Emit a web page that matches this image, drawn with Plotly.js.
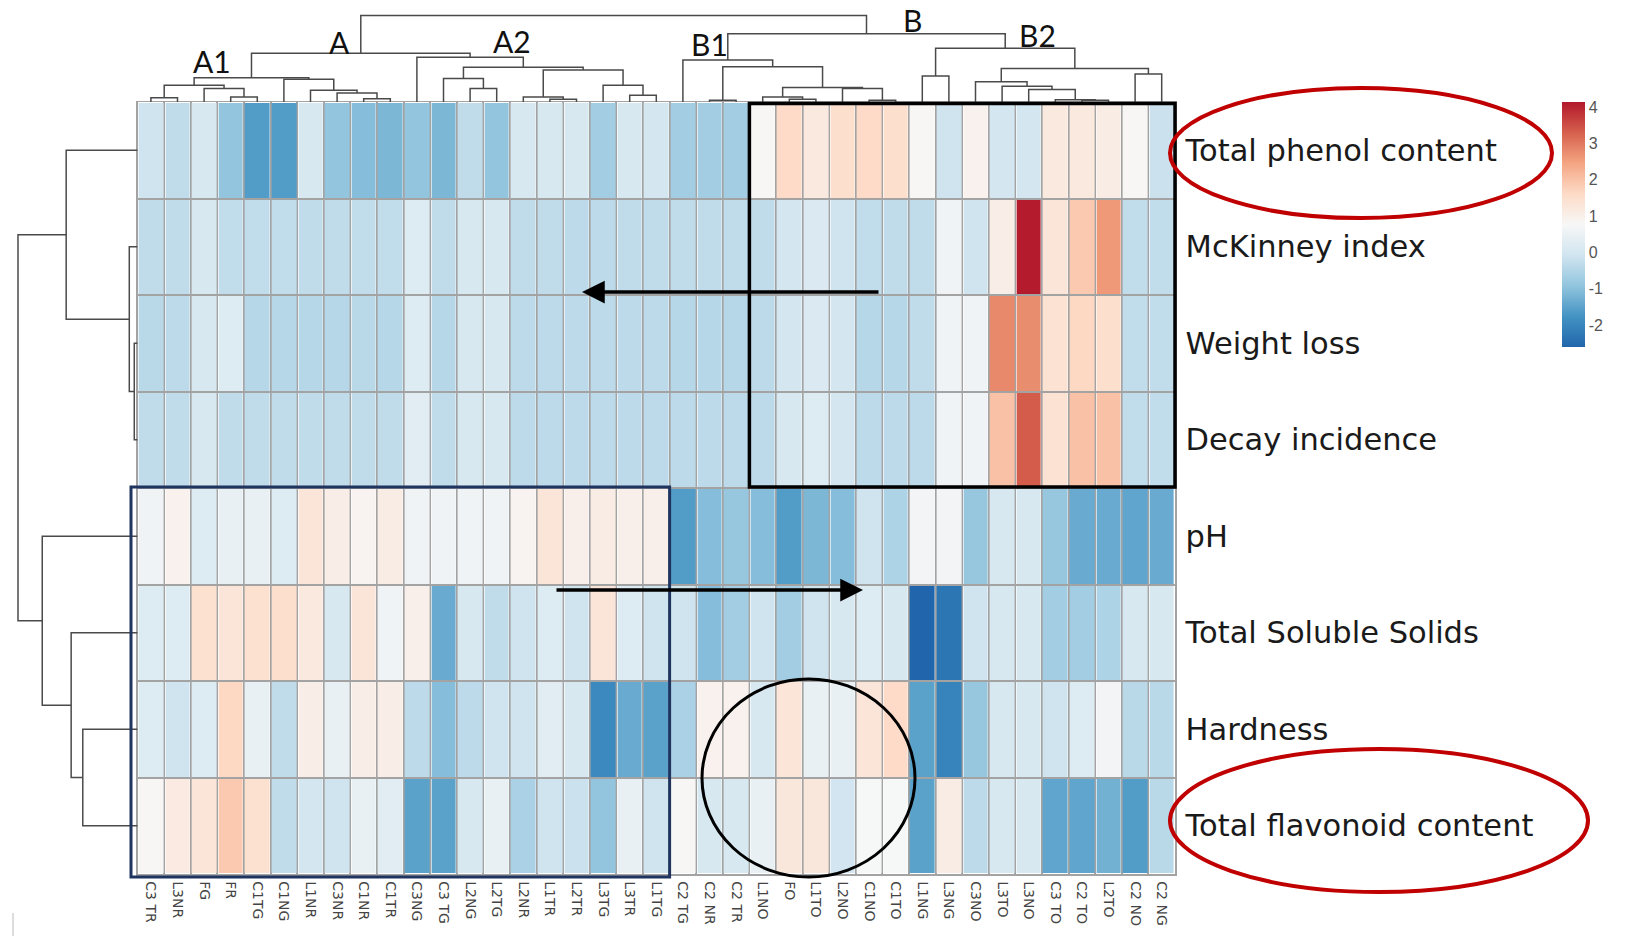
<!DOCTYPE html>
<html>
<head>
<meta charset="utf-8">
<script src="https://cdn.plot.ly/plotly-3.0.1.min.js"></script>
<style>html,body{margin:0;padding:0;background:#fff}#chart{width:1631px;height:939px}</style>
</head>
<body>
<div id="chart"></div>
<script>
// ---------- DATA ----------
const columns = ["C3 TR","L3NR","FG","FR","C1TG","C1NG","L1NR","C3NR","C1NR","C1TR","C3NG","C3 TG","L2NG","L2TG","L2NR","L1TR","L2TR","L3TG","L3TR","L1TG","C2 TG","C2 NR","C2 TR","L1NO","FO","L1TO","L2NO","C1NO","C1TO","L1NG","L3NG","C3NO","L3TO","L3NO","C3 TO","C2 TO","L2TO","C2 NO","C2 NG"];
const rowsLabels = ["Total phenol content","McKinney index","Weight loss","Decay incidence","pH","Total Soluble Solids","Hardness","Total flavonoid content"];

const totalPhenol = [-0.1,-0.3,0.05,-0.9,-1.6,-1.6,0.05,-0.9,-1.05,-1.15,-0.9,-1.15,-0.3,-0.9,0.05,0.05,0.05,-0.7,0.05,0.0,-0.7,-0.7,-0.7,0.8,1.6,1.2,1.5,1.6,1.5,0.8,-0.1,0.95,0.0,0.0,1.2,1.2,1.1,0.8,-0.15];
const mckinney = [-0.3,-0.3,0.05,-0.28,-0.28,-0.28,-0.3,-0.3,-0.28,-0.28,0.2,-0.3,0.05,0.05,-0.3,-0.3,-0.35,-0.35,-0.3,-0.3,-0.3,-0.3,-0.3,-0.3,0.0,0.15,-0.1,-0.28,-0.3,-0.3,0.6,-0.1,1.05,4.1,1.3,1.9,2.6,-0.28,-0.28];
const weightLoss = [-0.4,-0.35,0.05,0.2,-0.45,-0.45,-0.45,-0.45,-0.4,-0.45,0.2,-0.45,0.05,0.05,-0.35,-0.35,-0.35,-0.35,-0.35,-0.35,-0.45,-0.45,-0.45,-0.35,0.0,0.15,0.0,-0.45,-0.45,-0.3,0.6,0.6,2.8,2.75,1.4,1.65,1.5,-0.28,-0.28];
const decay = [-0.3,-0.3,0.05,-0.3,-0.3,-0.3,-0.3,-0.3,-0.3,-0.3,0.3,-0.3,0.05,0.05,-0.35,-0.35,-0.35,-0.35,-0.35,-0.35,-0.35,-0.35,-0.35,-0.35,0.05,0.2,0.0,-0.35,-0.35,-0.35,0.6,0.6,2.0,3.35,1.4,2.0,2.0,-0.28,-0.28];
const pH = [0.6,0.95,0.2,0.45,0.45,0.2,1.3,1.05,0.9,1.1,0.6,0.6,0.6,0.6,0.9,1.3,1.0,1.1,1.0,1.0,-1.6,-1.05,-0.85,-1.05,-1.6,-1.15,-1.05,-0.1,-0.55,0.65,0.65,-0.85,0.05,0.05,-0.85,-1.35,-1.35,-1.45,-1.35];
const tss = [0.2,0.2,1.45,1.3,1.45,1.5,1.2,0.05,1.3,0.6,1.0,-1.35,0.05,-0.3,-0.1,0.2,-0.1,1.3,0.2,-0.1,-0.1,-1.05,-0.7,-0.1,-0.7,-0.1,0.05,0.2,0.05,-2.6,-2.3,-0.1,0.05,0.05,-0.7,-0.7,-0.55,0.05,0.05];
const hardness = [0.2,-0.1,0.2,1.65,0.45,-0.3,1.05,0.45,1.05,1.05,-0.35,-1.05,-0.35,-0.1,-0.1,0.3,0.05,-1.95,-1.35,-1.5,-0.6,0.95,0.95,0.05,1.3,0.45,0.45,1.3,1.6,-1.5,-2.05,-0.85,0.05,0.05,-0.1,0.2,0.65,-0.4,-0.4];
const flavonoid = [0.8,1.15,1.3,1.9,1.45,-0.3,0.0,-0.1,0.45,0.3,-1.5,-1.5,0.05,0.45,-0.6,-0.1,-0.15,-0.9,0.45,-0.1,0.8,0.05,0.05,0.45,1.25,1.25,-0.05,0.75,0.75,-1.5,1.1,-0.35,0.05,0.05,-1.45,-1.45,-1.25,-1.6,-0.4];

// column dendrogram merges: [left, right, height]  (leaves 0..38, clusters 39+k)
const colMerges = [
  [0,1,13],[3,4,15],[2,40,40],[39,41,50],[8,9,10],[7,43,27],[6,44,35],[5,45,68],[42,46,72],
  [12,13,40],[11,48,70],[15,16,8],[14,50,15],[18,19,20],[17,52,50],[51,53,95],[49,54,103],[10,55,133],
  [47,56,145],
  [21,22,5],[24,25,8],[23,59,15],[27,28,5],[26,61,40],[60,62,43],[58,63,105],[20,64,125],
  [29,30,77],[35,36,5],[34,67,7],[33,68,37],[32,69,47],[31,70,60],[37,38,83],[71,72,100],[66,73,160],
  [65,74,203],[57,75,257]
];
// row dendrogram merges (leaves 0..7, clusters 8+k)
const rowMerges = [[2,3,10],[1,8,25],[0,9,215],[6,7,165],[5,11,200],[4,12,287],[10,13,360]];

const colorbarTicks = [-2,-1,0,1,2,3,4];
const clusterLabels = ["A1","A","A2","B1","B","B2"];

// ---------- BUILD ----------
const zData = [totalPhenol, mckinney, weightLoss, decay, pH, tss, hardness, flavonoid];

function dendro(merges, n){
  const pos=[], hgt=[], p=[], h=[];
  for(let i=0;i<n;i++){pos[i]=i;hgt[i]=0;}
  merges.forEach((m,k)=>{
    const [l,r,ht]=m;
    p.push(pos[l],pos[l],pos[r],pos[r],null);
    h.push(hgt[l],ht,ht,hgt[r],null);
    pos[n+k]=(pos[l]+pos[r])/2; hgt[n+k]=ht;
  });
  return {p,h};
}
const colD = dendro(colMerges, columns.length);
const rowD = dendro(rowMerges, rowsLabels.length);

const W=1631, H=939;
const px = v => v/W, py = v => 1 - v/H;
const hmL=137.6, hmR=1175, hmT=102, hmB=874;
const xdom=[px(hmL), px(hmR)];
const ydom=[py(hmB), py(hmT)];

const colorscale=[[0,'#2166ac'],[0.125,'#4393c3'],[0.25,'#92c5de'],[0.375,'#d1e5f0'],[0.5,'#f7f7f7'],[0.625,'#fddbc7'],[0.75,'#f4a582'],[0.875,'#d6604d'],[1,'#b2182b']];

const idxC = columns.map((_,i)=>i);
const idxR = rowsLabels.map((_,i)=>i);

const traces = [
  {type:'heatmap', z:zData, x:idxC, y:idxR, xaxis:'x', yaxis:'y',
   colorscale, zmin:-2.6, zmax:4.14, xgap:2, ygap:2, hoverinfo:'skip',
   colorbar:{x:px(1562), xanchor:'left', y:py(224.5), yanchor:'middle', len:245, lenmode:'pixels',
     thickness:23, thicknessmode:'pixels', outlinewidth:0, xpad:0, ypad:0,
     tickvals:colorbarTicks, ticktext:colorbarTicks.map(String), ticks:'',
     tickfont:{family:'Liberation Sans, Arial', size:16, color:'#555'}}},
  {type:'scatter', mode:'lines', x:colD.p, y:colD.h, xaxis:'x3', yaxis:'y2',
   line:{color:'#4a4a4a', width:1.5}, hoverinfo:'skip'},
  {type:'scatter', mode:'lines', x:rowD.h, y:rowD.p, xaxis:'x2', yaxis:'y3',
   line:{color:'#4a4a4a', width:1.5}, hoverinfo:'skip'}
];

// dendrogram scales
const topScale = (hmT-15.6)/257;   // px per unit
const leftScale = (hmL-18)/360;

const labelPos = [[212,61],[339,42],[512,41],[709,44],[912,20],[1037,35]];

const annotations = clusterLabels.map((t,i)=>({
  text:t, xref:'paper', yref:'paper', x:px(labelPos[i][0]), y:py(labelPos[i][1]),
  xanchor:'center', yanchor:'middle', showarrow:false,
  font:{family:'Lato, Liberation Sans', size:30, color:'#111'}
}));
annotations.push(
  {text:'', xref:'paper', yref:'paper', x:px(582), y:py(292), ax:298, ay:0, axref:'pixel', ayref:'pixel',
   showarrow:true, arrowhead:2, arrowsize:1.3, arrowwidth:3.5, arrowcolor:'#000', standoff:0},
  {text:'', xref:'paper', yref:'paper', x:px(863), y:py(590), ax:-308, ay:0, axref:'pixel', ayref:'pixel',
   showarrow:true, arrowhead:2, arrowsize:1.3, arrowwidth:3.5, arrowcolor:'#000', standoff:0}
);

const shapes = [
  {type:'rect', xref:'paper', yref:'paper', x0:px(749.4), x1:px(1175), y0:py(487), y1:py(103.5),
   line:{color:'#000', width:3.5}},
  {type:'rect', xref:'paper', yref:'paper', x0:px(131), x1:px(669.6), y0:py(877), y1:py(487),
   line:{color:'#1f3560', width:3}},
  {type:'circle', xref:'paper', yref:'paper', x0:px(702), x1:px(915), y0:py(877), y1:py(679),
   line:{color:'#000', width:3}},
  {type:'circle', xref:'paper', yref:'paper', x0:px(1170), x1:px(1552), y0:py(218), y1:py(88),
   line:{color:'#c00000', width:4}},
  {type:'circle', xref:'paper', yref:'paper', x0:px(1170), x1:px(1588), y0:py(892), y1:py(749),
   line:{color:'#c00000', width:4}},
  {type:'line', xref:'paper', yref:'paper', x0:px(13), x1:px(13), y0:py(913), y1:py(936),
   line:{color:'#bbb', width:1}}
];

const layout = {
  width:W, height:H, margin:{l:0,r:0,t:0,b:0},
  paper_bgcolor:'#fff', plot_bgcolor:'#fff', showlegend:false, hovermode:false,
  xaxis:{domain:xdom, range:[-0.5, columns.length-0.5], anchor:'y', tickmode:'array',
    tickvals:idxC, ticktext:columns, tickangle:90, ticks:'', showgrid:false, zeroline:false,
    ticklabelstandoff:3,
    tickfont:{family:'DejaVu Sans, Arial', size:14, color:'#444'},
    minor:{tick0:0.5, dtick:1, showgrid:true, gridcolor:'#a3a3a3', gridwidth:2, ticks:''},
    showline:true, linecolor:'#a3a3a3', linewidth:1.5, mirror:true},
  yaxis:{domain:ydom, range:[rowsLabels.length-0.5, -0.5], anchor:'x', side:'right', tickmode:'array',
    tickvals:idxR, ticktext:rowsLabels, ticks:'', showgrid:false, zeroline:false,
    ticklabelstandoff:3,
    tickfont:{family:'DejaVu Sans, Arial', size:30.5, color:'#1a1a1a'},
    minor:{tick0:0.5, dtick:1, showgrid:true, gridcolor:'#a3a3a3', gridwidth:2, ticks:''},
    showline:true, linecolor:'#a3a3a3', linewidth:1.5, mirror:true},
  xaxis3:{domain:xdom, range:[-0.5, columns.length-0.5], anchor:'y2', visible:false},
  yaxis2:{domain:[ydom[1], py(hmT - 262*topScale)], range:[0,262], anchor:'x3', visible:false},
  xaxis2:{domain:[px(hmL - 366*leftScale), xdom[0]], range:[366,0], anchor:'y3', visible:false},
  yaxis3:{domain:ydom, range:[rowsLabels.length-0.5, -0.5], anchor:'x2', visible:false},
  shapes, annotations
};

Plotly.newPlot('chart', traces, layout, {displayModeBar:false, staticPlot:true});
</script>
</body>
</html>
